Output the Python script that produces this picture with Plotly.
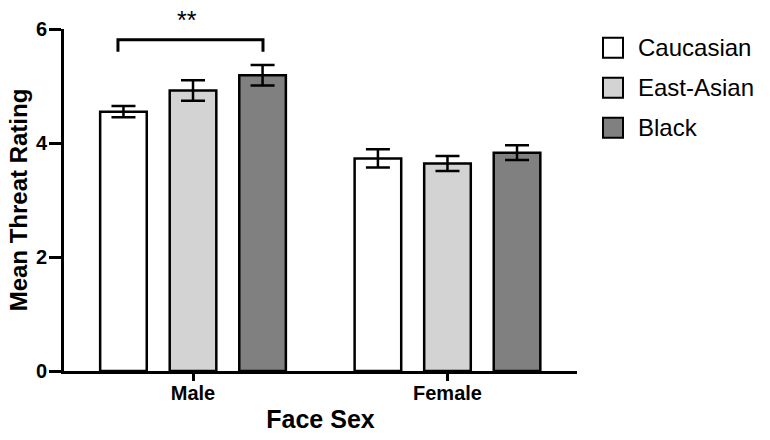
import plotly.graph_objects as go

categories = ["Male", "Female"]
series_names = ["Caucasian", "East-Asian", "Black"]
caucasian = [4.55, 3.73]
east_asian = [4.92, 3.64]
black = [5.19, 3.83]
caucasian_err = [0.10, 0.16]
east_asian_err = [0.18, 0.13]
black_err = [0.18, 0.13]
y_ticks = [0, 2, 4, 6]
fills = ["#ffffff", "#d3d3d3", "#808080"]

values = [caucasian, east_asian, black]
errors = [caucasian_err, east_asian_err, black_err]

FONT = "Liberation Sans, Arial, sans-serif"

fig = go.Figure()
for name, vals, errs, fc in zip(series_names, values, errors, fills):
    fig.add_trace(go.Bar(
        x=categories, y=vals, name=name,
        marker=dict(color=fc, line=dict(color="black", width=2.5)),
        error_y=dict(type="data", array=errs, visible=True,
                     color="black", thickness=2.5, width=12),
        showlegend=False,
    ))

L, W = 64, 513
T, H = 371.3, 342
def px(x):
    return (x - L) / W
def py(y):
    return (T - y) / H

# significance bracket
fig.add_shape(type="path", xref="x", yref="y",
              path="M -0.295 5.6 L -0.295 5.81 L 0.275 5.81 L 0.275 5.6",
              line=dict(color="black", width=3))
fig.add_annotation(x=-0.022, y=py(20), xref="x", yref="paper", text="**",
                   showarrow=False, font=dict(family=FONT, size=25, color="black"),
                   yanchor="middle")

# legend (manual)
for i, (name, fc) in enumerate(zip(series_names, fills)):
    cy = 48 + i * 40
    fig.add_shape(type="rect", xref="paper", yref="paper",
                  x0=px(603), x1=px(623), y0=py(cy + 10), y1=py(cy - 10),
                  fillcolor=fc, line=dict(color="black", width=2))
    fig.add_annotation(x=px(636), y=py(cy), xref="paper", yref="paper",
                       text=name, showarrow=False, xanchor="left", yanchor="middle",
                       font=dict(family=FONT, size=24, color="black"))

fig.update_layout(
    width=770, height=440,
    margin=dict(l=64, r=193, t=29, b=69, autoexpand=False),
    paper_bgcolor="white", plot_bgcolor="white",
    barmode="group", bargap=0.18, bargroupgap=0.33,
    font=dict(family=FONT, color="black"),
)
fig.update_xaxes(
    range=[-0.507, 1.509], showline=True, linecolor="black", linewidth=3,
    ticks="outside", ticklen=7, tickwidth=3, tickcolor="black",
    ticklabelstandoff=-5,
    tickfont=dict(family=FONT, size=20, color="black", weight="bold"),
    title=dict(text="Face Sex", font=dict(family=FONT, size=25, color="black", weight="bold"), standoff=8),
    showgrid=False, zeroline=False, fixedrange=True, automargin=False,
)
fig.update_yaxes(
    range=[0, 6], tickvals=y_ticks, ticktext=[str(v) for v in y_ticks],
    showline=True, linecolor="black", linewidth=3,
    ticks="outside", ticklen=12, tickwidth=3, tickcolor="black",
    ticklabelstandoff=-2,
    tickfont=dict(family=FONT, size=20, color="black", weight="bold"),
    title=dict(text="Mean Threat Rating", font=dict(family=FONT, size=24, color="black", weight="bold"), standoff=2),
    showgrid=False, zeroline=False, fixedrange=True, automargin=False,
)

fig.write_html("out.html", config={"displayModeBar": False},
               post_script="document.body.style.margin='0';document.body.style.padding='0';")
